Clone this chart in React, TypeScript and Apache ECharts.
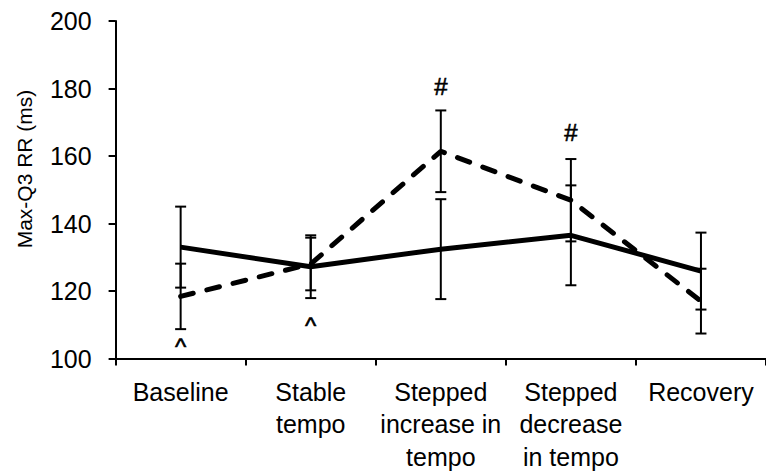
import React, { useEffect, useRef } from "react";
import * as echarts from "echarts";

const categories = [
  "Baseline",
  "Stable\ntempo",
  "Stepped\nincrease in\ntempo",
  "Stepped\ndecrease\nin tempo",
  "Recovery",
];
const solidMean = [133.0, 127.2, 132.4, 136.5, 125.9];
const solidErr = [12.0, 9.3, 14.8, 14.8, 11.4];
const dashedMean = [118.4, 128.0, 161.4, 146.9, 117.0];
const dashedErr = [9.7, 7.8, 12.1, 12.2, 9.6];
const annotations = [
  { cat: 0, value: 103.6, text: "^" },
  { cat: 1, value: 109.8, text: "^" },
  { cat: 2, value: 180.7, text: "#" },
  { cat: 3, value: 167.1, text: "#" },
];
const yTicks = { min: 100, max: 200, interval: 20 };

const FONT = "'Liberation Sans', Arial, sans-serif";

function errorBarSeries(mean: number[], err: number[]) {
  return {
    type: "custom",
    z: 1,
    silent: true,
    renderItem: (params: any, api: any) => {
      const x = api.value(0);
      const m = api.value(1);
      const e = api.value(2);
      const top = api.coord([x, m + e]);
      const bot = api.coord([x, m - e]);
      const hw = 5.5;
      const st = { stroke: "#000", lineWidth: 2 };
      return {
        type: "group",
        children: [
          { type: "line", shape: { x1: top[0], y1: top[1], x2: bot[0], y2: bot[1] }, style: st },
          { type: "line", shape: { x1: top[0] - hw, y1: top[1], x2: top[0] + hw, y2: top[1] }, style: st },
          { type: "line", shape: { x1: bot[0] - hw, y1: bot[1], x2: bot[0] + hw, y2: bot[1] }, style: st },
        ],
      };
    },
    data: mean.map((m, i) => [i, m, err[i]]),
  };
}

export default function App() {
  const ref = useRef<HTMLDivElement>(null);
  useEffect(() => {
    if (!ref.current) return;
    const chart = echarts.init(ref.current, null, { renderer: "svg" });
    chart.setOption({
      animation: false,
      backgroundColor: "#fff",
      textStyle: { fontFamily: FONT },
      grid: { left: 115.6, right: -10, top: 21, bottom: 110, containLabel: false },
      xAxis: {
        type: "category",
        data: categories,
        boundaryGap: true,
        axisLine: { lineStyle: { color: "#000", width: 2 } },
        axisTick: { show: true, length: 7, lineStyle: { color: "#000", width: 2 } },
        axisLabel: {
          color: "#000",
          fontSize: 25,
          lineHeight: 32.5,
          margin: 17,
          interval: 0,
          fontFamily: FONT,
        },
        splitLine: { show: false },
      },
      yAxis: {
        type: "value",
        min: yTicks.min,
        max: yTicks.max,
        interval: yTicks.interval,
        axisLine: { show: true, lineStyle: { color: "#000", width: 2 } },
        axisTick: { show: true, length: 7, lineStyle: { color: "#000", width: 2 } },
        axisLabel: { color: "#000", fontSize: 25, margin: 24, fontFamily: FONT },
        splitLine: { show: false },
      },
      graphic: [
        {
          type: "text",
          x: 24,
          y: 169,
          rotation: Math.PI / 2,
          style: {
            text: "Max-Q3 RR (ms)",
            fill: "#000",
            fontSize: 21,
            fontFamily: FONT,
            align: "center",
            verticalAlign: "middle",
          },
        },
      ],
      series: [
        errorBarSeries(solidMean, solidErr),
        errorBarSeries(dashedMean, dashedErr),
        {
          type: "line",
          z: 3,
          data: solidMean,
          symbol: "none",
          lineStyle: { color: "#000", width: 5, type: "solid" },
        },
        {
          type: "line",
          z: 3,
          data: dashedMean,
          symbol: "none",
          lineStyle: { color: "#000", width: 5, type: [13, 14], cap: "round" },
        },
        {
          type: "scatter",
          z: 4,
          symbolSize: 1,
          itemStyle: { color: "rgba(0,0,0,0)" },
          label: {
            show: true,
            position: "inside",
            formatter: "{b}",
            color: "#000",
            opacity: 1,
            fontSize: 24,
            fontFamily: FONT,
            textBorderColor: "#000",
            textBorderWidth: 0.6,
          },
          data: annotations.map((a) => ({ name: a.text, value: [a.cat, a.value] })),
        },
      ],
    });
    return () => chart.dispose();
  }, []);
  return (
    <div
      ref={ref}
      style={{ position: "fixed", left: 0, top: 0, width: 766, height: 473 }}
    />
  );
}
